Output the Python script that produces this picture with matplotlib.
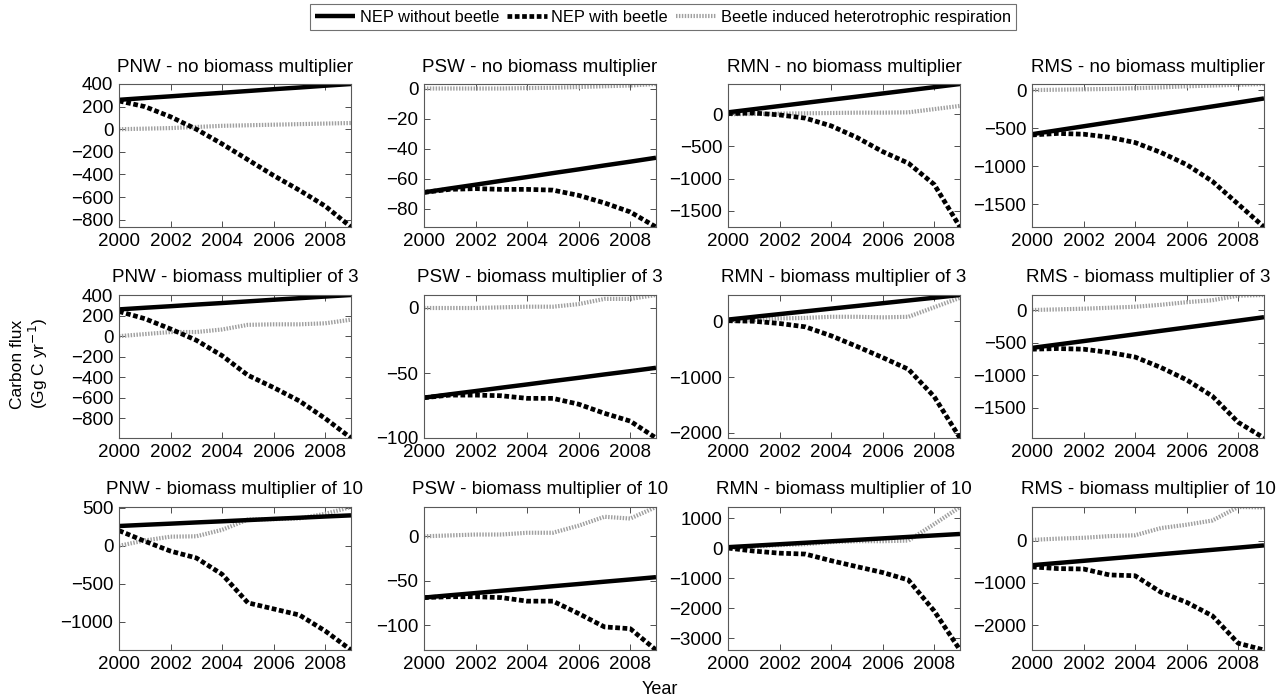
import matplotlib
matplotlib.use("Agg")
import matplotlib.pyplot as plt
from matplotlib.ticker import MultipleLocator
from matplotlib.lines import Line2D

plt.rcParams['font.family'] = ['Liberation Sans', 'DejaVu Sans']

years = [2000, 2001, 2002, 2003, 2004, 2005, 2006, 2007, 2008, 2009]
regions = ["PNW", "PSW", "RMN", "RMS"]
multipliers = ["no biomass multiplier", "biomass multiplier of 3", "biomass multiplier of 10"]

# NEP without beetle (same in every row)
nep_without_pnw = [260, 276, 291, 307, 322, 338, 354, 369, 385, 400]
nep_without_psw = [-69, -66.4, -63.9, -61.3, -58.8, -56.2, -53.7, -51.1, -48.6, -46]
nep_without_rmn = [30, 79, 128, 177, 226, 274, 323, 372, 421, 470]
nep_without_rms = [-580, -528, -476, -424, -372, -319, -267, -215, -163, -110]

# Row 1: no biomass multiplier
nep_with_pnw_1 = [250, 200, 110, 0, -130, -270, -410, -540, -680, -865]
resp_pnw_1 = [0, 5, 10, 20, 30, 35, 40, 45, 50, 55]
nep_with_psw_1 = [-69, -67, -66.5, -67, -67, -67.5, -71, -76, -82, -92]
resp_psw_1 = [0, 0, 0, 0, 0.3, 0.5, 1, 1.5, 2, 3]
nep_with_rmn_1 = [10, 20, -10, -60, -180, -360, -580, -760, -1090, -1750]
resp_rmn_1 = [0, 5, 10, 15, 20, 25, 25, 30, 80, 130]
nep_with_rms_1 = [-590, -570, -580, -620, -690, -820, -980, -1200, -1500, -1800]
resp_rms_1 = [0, 5, 10, 15, 25, 35, 50, 60, 70, 80]

# Row 2: biomass multiplier of 3
nep_with_pnw_3 = [240, 170, 70, -40, -190, -380, -500, -630, -800, -990]
resp_pnw_3 = [0, 20, 40, 40, 65, 110, 115, 115, 125, 160]
nep_with_psw_3 = [-69, -67, -67, -67.5, -69.5, -69.5, -74, -81, -87, -100]
resp_psw_3 = [0, 0, 0, 0.5, 1, 1, 3, 7, 7, 10]
nep_with_rmn_3 = [10, 0, -40, -100, -260, -450, -650, -860, -1350, -2090]
resp_rmn_3 = [0, 20, 50, 60, 80, 80, 70, 80, 250, 420]
nep_with_rms_3 = [-600, -590, -600, -650, -720, -880, -1070, -1320, -1720, -1960]
resp_rms_3 = [0, 10, 20, 35, 50, 80, 120, 150, 220, 230]

# Row 3: biomass multiplier of 10
nep_with_pnw_10 = [200, 60, -70, -160, -375, -750, -830, -910, -1120, -1370]
resp_pnw_10 = [0, 70, 120, 125, 210, 345, 350, 360, 420, 510]
nep_with_psw_10 = [-69, -68, -68, -69, -73, -73, -87, -102, -104, -128]
resp_psw_10 = [0, 1, 2, 2, 4, 4, 12, 22, 20, 33]
nep_with_rmn_10 = [0, -100, -170, -200, -420, -620, -815, -1065, -2100, -3400]
resp_rmn_10 = [0, 50, 100, 130, 200, 230, 230, 250, 800, 1370]
nep_with_rms_10 = [-620, -660, -670, -810, -830, -1220, -1460, -1780, -2430, -2590]
resp_rms_10 = [20, 50, 70, 110, 130, 300, 380, 480, 800, 790]

nep_without = [nep_without_pnw, nep_without_psw, nep_without_rmn, nep_without_rms]
nep_with = [
    [nep_with_pnw_1, nep_with_psw_1, nep_with_rmn_1, nep_with_rms_1],
    [nep_with_pnw_3, nep_with_psw_3, nep_with_rmn_3, nep_with_rms_3],
    [nep_with_pnw_10, nep_with_psw_10, nep_with_rmn_10, nep_with_rms_10],
]
resp = [
    [resp_pnw_1, resp_psw_1, resp_rmn_1, resp_rms_1],
    [resp_pnw_3, resp_psw_3, resp_rmn_3, resp_rms_3],
    [resp_pnw_10, resp_psw_10, resp_rmn_10, resp_rms_10],
]
ytick_steps = [
    [200, 20, 500, 500],
    [200, 50, 1000, 500],
    [500, 50, 1000, 1000],
]

W, H = 1277, 699
fig = plt.figure(figsize=(W / 100, H / 100), dpi=100)

lefts = [119, 424, 728, 1032]
tops = [84, 295, 507]
aw, ah = 232, 143

solid_kw = dict(color='black', lw=3.2, solid_capstyle='butt')
dot_kw = dict(color='black', lw=3.4, linestyle=(0, (1.0, 0.55)))
resp_kw = dict(color='#a0a0a0', lw=3.0, linestyle=(0, (0.35, 0.35)))

for r in range(3):
    for c in range(4):
        ax = fig.add_axes([lefts[c] / W, 1 - (tops[r] + ah) / H, aw / W, ah / H])
        ax.plot(years, resp[r][c], **resp_kw)
        ax.plot(years, nep_with[r][c], **dot_kw)
        ax.plot(years, nep_without[c], **solid_kw)
        allv = resp[r][c] + nep_with[r][c] + nep_without[c]
        ax.set_ylim(min(allv), max(allv))
        ax.set_xlim(2000, 2009)
        ax.set_xticks([2000, 2002, 2004, 2006, 2008])
        ax.yaxis.set_major_locator(MultipleLocator(ytick_steps[r][c]))
        ax.tick_params(direction='in', top=True, right=True, labelsize=13.5,
                       length=4, width=0.7, color='0.3', pad=4)
        for s in ax.spines.values():
            s.set_color('0.35')
            s.set_linewidth(0.8)
        ax.set_title(f"{regions[c]} - {multipliers[r]}", fontsize=13.5, pad=9)

fig.text(30 / W, 1 - 364 / H, "Carbon flux\n(Gg C yr$^{-1}$)", rotation=90,
         ha='center', va='center', fontsize=12.5, linespacing=1.1)
fig.text(660 / W, 1 - 690 / H, "Year", ha='center', va='center', fontsize=13)

handles = [Line2D([], [], **solid_kw), Line2D([], [], **dot_kw), Line2D([], [], **resp_kw)]
labels = ["NEP without beetle", "NEP with beetle", "Beetle induced heterotrophic respiration"]
leg = fig.legend(handles, labels, loc='upper center', bbox_to_anchor=(663 / W, 1 - 4 / H),
                 ncol=3, fontsize=11.8, frameon=True, fancybox=False, handlelength=2.4,
                 columnspacing=0.5, handletextpad=0.3, borderpad=0.35, borderaxespad=0)
leg.get_frame().set_edgecolor('0.3')
leg.get_frame().set_linewidth(0.8)

fig.savefig("out.png", dpi=100)
